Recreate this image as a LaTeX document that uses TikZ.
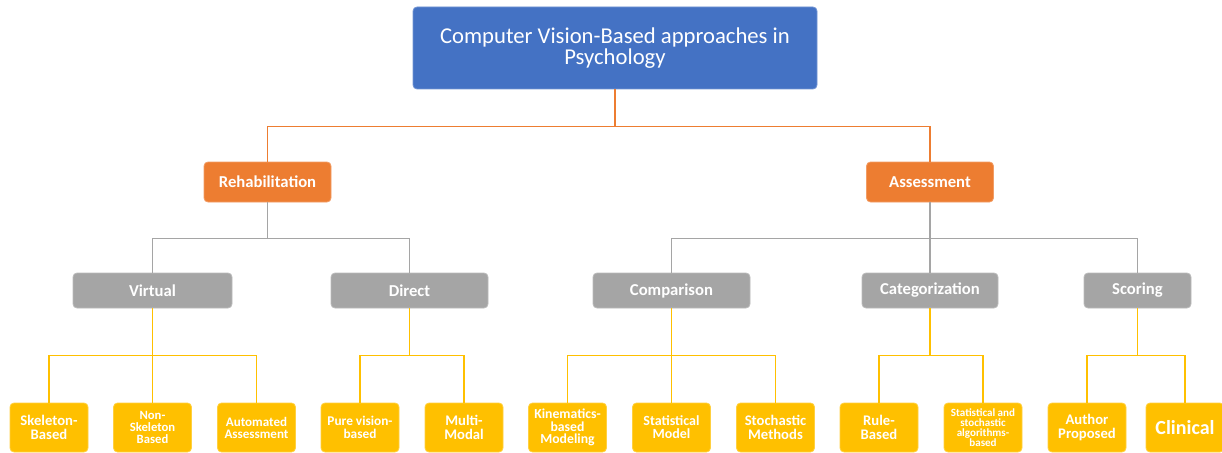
\documentclass[tikz,border=0pt]{standalone}
\usepackage{fontspec}
\setmainfont{Carlito}
\definecolor{cvblue}{HTML}{4472C4}
\definecolor{cvorange}{HTML}{ED7D31}
\definecolor{cvgray}{HTML}{A5A5A5}
\definecolor{cvyellow}{HTML}{FFC000}
\begin{document}
\begin{tikzpicture}[x=0.75pt,y=-0.75pt,
  card/.style={rounded corners=3pt, text=white, align=center, inner sep=1pt,
    fill=#1, draw=#1!75!white, line width=0.6pt},
  sz/.style 2 args={minimum width=#1*0.75pt, minimum height=#2*0.75pt},
  fsz/.style={font={\pgfmathsetmacro\bsk{#1*0.92}\fontsize{#1}{\bsk}\selectfont\bfseries}},
  topbox/.style={card=cvblue, sz={404}{82}, font=\fontsize{17}{15.5}\selectfont},
  areabox/.style={card=cvorange, sz={127}{40}, fsz=12.5},
  groupbox/.style={card=cvgray, sz={157}{35}, fsz=12.5},
  leafbox/.style={card=cvyellow, sz={78}{49}, fsz=10.5},
  link/.style={draw=#1, line width=1.1pt},
]
\useasboundingbox (0,0) rectangle (1222,453);

% root
\node[topbox] (root) at (615,48) {Computer Vision-Based approaches in\\Psychology};

% main areas
\node[areabox] (rehab) at (267.5,182) {Rehabilitation};
\node[areabox] (assess) at (930,182) {Assessment};

% groups
\node[groupbox, sz={159}{35}] (virtual) at (152.5,290.5) {Virtual};
\node[groupbox] (direct) at (409.5,290.5) {Direct};
\node[groupbox] (compar) at (671.5,290.5) {Comparison};
\node[groupbox, sz={136}{35}] (categ) at (930,290.5) {Categorization};
\node[groupbox, sz={107}{35}] (scoring) at (1137.5,290.5) {Scoring};

% leaves
\node[leafbox, fsz=11] (skel) at (49,427.5) {Skeleton-\\Based};
\node[leafbox, fsz=9.5] (nonskel) at (152.5,427.5) {Non-\\Skeleton\\Based};
\node[leafbox, fsz=9.8] (auto) at (256.5,427.5) {Automated\\Assessment};
\node[leafbox, fsz=10] (pure) at (360,427.5) {Pure vision-\\based};
\node[leafbox, fsz=11] (multi) at (464,427.5) {Multi-\\Modal};
\node[leafbox, fsz=10.3] (kinem) at (567.5,427.5) {Kinematics-\\based\\Modeling};
\node[leafbox, fsz=10.5] (statm) at (671.5,427.5) {Statistical\\Model};
\node[leafbox, fsz=11] (stoch) at (775.5,427.5) {Stochastic\\Methods};
\node[leafbox, fsz=11] (rule) at (879,427.5) {Rule-\\Based};
\node[leafbox, fsz=8.3] (statst) at (983,427.5) {Statistical and\\stochastic\\algorithms-\\based};
\node[leafbox, fsz=11] (author) at (1087,427.5) {Author\\Proposed};
\node[leafbox, fsz=15] (clinical) at (1185,427.5) {Clinical};

% root to areas
\draw[link=cvorange] (root.south) -- ++(0,37) -| (rehab.north);
\draw[link=cvorange] (root.south) -- ++(0,37) -| (assess.north);

% areas to groups
\foreach \g in {virtual,direct}
  \draw[link=cvgray] (rehab.south) -- ++(0,36) -| (\g.north);
\foreach \g in {compar,categ,scoring}
  \draw[link=cvgray] (assess.south) -- ++(0,36) -| (\g.north);

% groups to leaves
\foreach \p/\c in {virtual/skel,virtual/nonskel,virtual/auto,
                   direct/pure,direct/multi,
                   compar/kinem,compar/statm,compar/stoch,
                   categ/rule,categ/statst,
                   scoring/author,scoring/clinical}
  \draw[link=cvyellow] (\p.south) -- ++(0,47) -| (\c.north);
\end{tikzpicture}
\end{document}
